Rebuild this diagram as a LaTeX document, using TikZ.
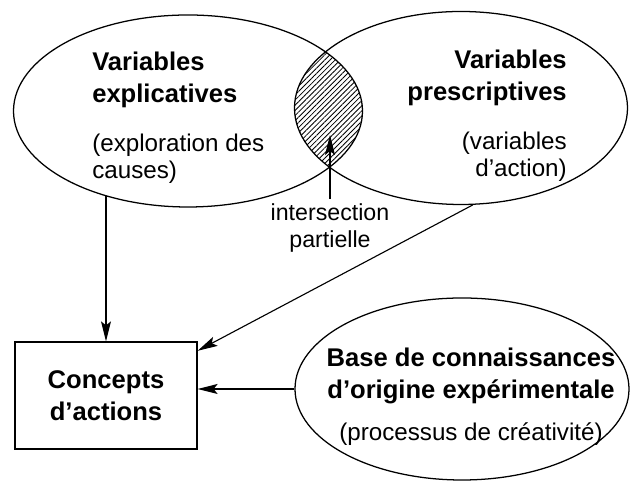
\documentclass[tikz,border=0pt]{standalone}
\usepackage{fontspec}
\setmainfont{Liberation Sans}
\usetikzlibrary{arrows.meta, positioning, shapes.geometric, patterns.meta, calc}
\newcommand{\ttlfont}{\fontsize{18.2}{22.8}\selectfont\bfseries}
\newcommand{\subfont}{\fontsize{17.2}{19.2}\selectfont}
\tikzset{
    % Ellipses
    vell/.style={ellipse, draw=black, line width=0.9pt, inner sep=0pt},
    vttl/.style={inner sep=0pt, font=\ttlfont},
    vsub/.style={inner sep=0pt, font=\subfont},
    % Concepts box
    cbox/.style={rectangle, draw=black, line width=0.9pt, minimum width=4.55cm,
                minimum height=2.675cm, align=center, font=\ttlfont},
    % General
    carrow/.style={-{Stealth[length=5mm, width=2.5mm, inset=1mm]}, line width=0.8pt},
}

\begin{document}
\begin{tikzpicture}
\useasboundingbox (0,0) rectangle (15.75,12.075);

\node[vell, minimum width=8.725cm, minimum height=4.8cm]   (lexp)  at (4.7,9.3)    {};
\node[vell, minimum width=8.325cm, minimum height=4.825cm] (rpre)  at (11.525,9.375) {};
\node[vell, minimum width=8.35cm,  minimum height=4.55cm]  (bknow) at (11.55,2.35) {};
\node[cbox] (concepts) at (2.65,2.1875) {Concepts\\d’actions};

% hatched overlap
\begin{scope}
\clip (lexp.center) ellipse [x radius=4.3625cm, y radius=2.4cm];
\fill[pattern={Lines[angle=45, distance=2.6pt, line width=0.6pt]}]
    (rpre.center) ellipse [x radius=4.1625cm, y radius=2.4125cm];
\end{scope}

\node[vttl, anchor=base west, align=left]  (lttl) at (2.3,9.5)     {Variables\\explicatives};
\node[vsub, anchor=base west, align=left]  (lsub) at (2.3,7.6)     {(exploration des\\causes)};
\node[vttl, anchor=base east, align=right] (rttl) at (14.175,9.55) {Variables\\prescriptives};
\node[vsub, anchor=base east, align=right] (rsub) at (14.175,7.65) {(variables\\d’action)};
\node[vttl, anchor=base, align=center]     (bttl) at (11.775,2.1) {Base de connaissances\\d’origine expérimentale};
\node[vsub, anchor=base]                   (bsub) at (11.775,1.05) {(processus de créativité)};

\node[vsub, anchor=north, align=center, font=\fontsize{16.5}{19.6}\selectfont]
    (inter) at (8.25,7.0) {intersection\\partielle};
\coordinate (itip) at (8.25,8.7);

\draw[carrow] ([yshift=1mm]inter.north) -- (itip);
\draw[carrow] (lexp.226 -| concepts.north) -- (concepts.north);
\draw[carrow] (rpre.-83) -- (concepts.26);
\draw[carrow] (bknow.west) -- (bknow.west -| concepts.east);
\end{tikzpicture}
\end{document}
